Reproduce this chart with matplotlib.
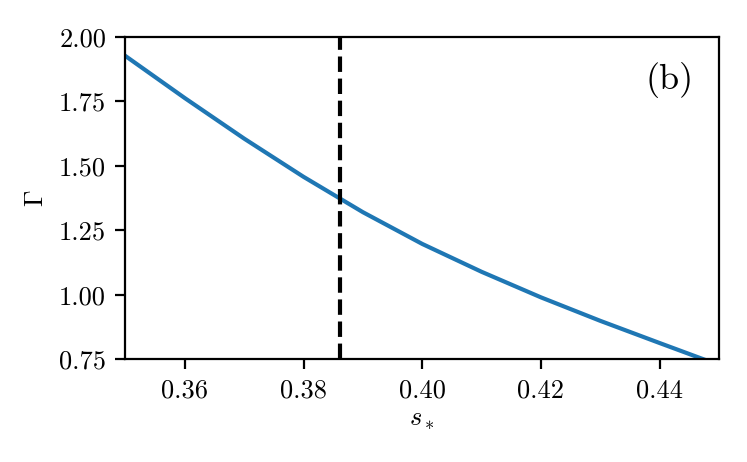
import matplotlib
matplotlib.use("Agg")
import matplotlib.pyplot as plt

plt.rcParams['font.family'] = 'serif'
plt.rcParams['font.serif'] = ['cmr10', 'DejaVu Serif']
plt.rcParams['mathtext.fontset'] = 'cm'
plt.rcParams['axes.formatter.use_mathtext'] = True
plt.rcParams['font.size'] = 9.5

# values
s_star = [0.35, 0.36, 0.37, 0.38, 0.39, 0.40, 0.41, 0.42, 0.43, 0.44, 0.4474]
gamma = [1.925, 1.762, 1.605, 1.457, 1.320, 1.197, 1.089, 0.990, 0.899, 0.813, 0.75]
s_crit = 0.3861

xticks = [0.36, 0.38, 0.40, 0.42, 0.44]
yticks = [0.75, 1.00, 1.25, 1.50, 1.75, 2.00]

fig = plt.figure(figsize=(3.735, 2.31), dpi=200)
ax = fig.add_axes([0.168, 0.2223, 0.7945, 0.6983])

ax.plot(s_star, gamma, color='#1f77b4', lw=1.5)
ax.axvline(s_crit, color='k', ls='--', lw=1.5)

ax.set_xlim(0.35, 0.45)
ax.set_ylim(0.75, 2.00)
ax.set_xticks(xticks)
ax.set_yticks(yticks)
ax.set_xticklabels(['%.2f' % v for v in xticks])
ax.set_yticklabels(['%.2f' % v for v in yticks])

ax.set_xlabel(r'$s_*$', labelpad=2)
ax.set_ylabel(r'$\Gamma$')

ax.text(0.917, 0.866, '(b)', transform=ax.transAxes, ha='center', va='center',
        fontsize=13)

fig.savefig('out.png', dpi=200)
